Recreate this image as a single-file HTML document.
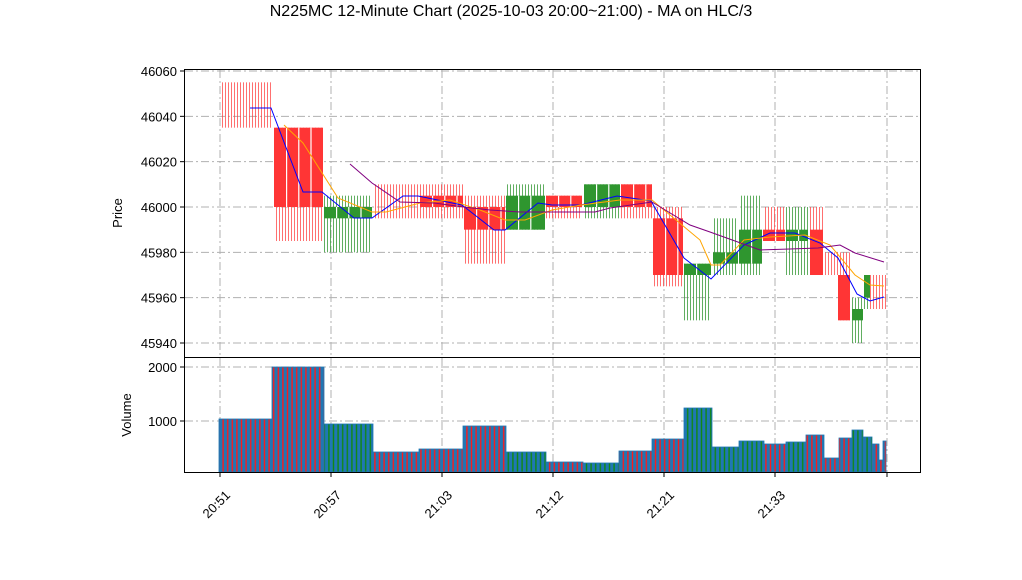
<!DOCTYPE html>
<html><head><meta charset="utf-8"><style>
body{margin:0;background:#fff}
svg text{font-family:"Liberation Sans","DejaVu Sans",sans-serif}
</style></head><body>
<svg id="s" width="1022" height="575" xmlns="http://www.w3.org/2000/svg">
<defs>
<pattern id="wr" width="3" height="10" patternUnits="userSpaceOnUse"><rect x="0" y="0" width="1" height="10" fill="#ff4040" opacity="0.75"/></pattern>
<pattern id="wg" width="3" height="10" patternUnits="userSpaceOnUse"><rect x="0" y="0" width="1" height="10" fill="#3a9a3a" opacity="0.8"/></pattern>
<pattern id="vr" width="4.6" height="10" patternUnits="userSpaceOnUse"><rect width="4.6" height="10" fill="#1f77b4"/><rect x="1.6" width="1.4" height="10" fill="#ff1a1a"/></pattern>
<pattern id="vg" width="4.6" height="10" patternUnits="userSpaceOnUse"><rect width="4.6" height="10" fill="#1f77b4"/><rect x="1.6" width="1.4" height="10" fill="#118811"/></pattern>
<pattern id="sep" x="0" width="12.2" height="10" patternUnits="userSpaceOnUse"><rect x="11" width="1.2" height="10" fill="#fff"/></pattern>
</defs>
<rect width="1022" height="575" fill="#fff"/>
<text x="511" y="16" font-size="16" text-anchor="middle">N225MC 12-Minute Chart (2025-10-03 20:00~21:00) - MA on HLC/3</text>
<g id="grid" stroke="#b0b0b0" stroke-width="1" stroke-dasharray="8,3,2,3" fill="none"></g>
<g id="wicks"></g><g id="bodies"></g><g id="vol"></g><g id="lines" fill="none"></g>
<rect x="184.5" y="69.5" width="736" height="288" fill="none" stroke="#000"/>
<rect x="184.5" y="357.5" width="736" height="115" fill="none" stroke="#000"/>
<g id="ticks" font-size="13"></g>
<text x="122" y="213" font-size="13" text-anchor="middle" transform="rotate(-90 122 213)">Price</text>
<text x="131" y="415" font-size="13" text-anchor="middle" transform="rotate(-90 131 415)">Volume</text>
</svg>
<script>
const NS="http://www.w3.org/2000/svg";
function el(p,t,a){const e=document.createElementNS(NS,t);for(const k in a)e.setAttribute(k,a[k]);document.getElementById(p).appendChild(e);return e;}
const py=p=>71+(46060-p)*2.2667;
const xt=[220,331,442,553,664,775,887],xl=["20:51","20:57","21:03","21:12","21:21","21:33",""];
const pt=[46060,46040,46020,46000,45980,45960,45940];
xt.forEach((x,i)=>{el("grid","line",{x1:x,x2:x,y1:70,y2:357});el("grid","line",{x1:x,x2:x,y1:358,y2:472});
 el("ticks","line",{x1:x,x2:x,y1:473,y2:477,stroke:"#000"});
 if(xl[i]){const t=el("ticks","text",{x:x+11,y:496,"text-anchor":"end",transform:`rotate(-45 ${x+11} 496)`});t.textContent=xl[i];}});
pt.forEach(p=>{const y=py(p);el("grid","line",{x1:185,x2:920,y1:y,y2:y});el("ticks","line",{x1:180,x2:184,y1:y,y2:y,stroke:"#000"});
 const t=el("ticks","text",{x:177,y:y+5,"text-anchor":"end"});t.textContent=p;});
[[2000,367],[1000,421]].forEach(([v,y])=>{el("grid","line",{x1:185,x2:920,y1:y,y2:y});el("ticks","line",{x1:180,x2:184,y1:y,y2:y,stroke:"#000"});
 const t=el("ticks","text",{x:177,y:y+5,"text-anchor":"end"});t.textContent=v;});
const B=[[220,272,'r',46055,46035,null,null],[274,323,'r',46035,45985,46035,46000],[324,372,'g',46005,45980,46000,45995],
[373,420,'r',46010,45995,null,null],[420,463,'r',46010,45995,46005,46000],[464,505,'r',46005,45975,46000,45990],
[506,545,'g',46010,45990,46005,45990],[546,582,'r',46005,45995,46005,46000],[584,620,'g',46010,45995,46010,46000],
[621,652,'r',46010,45995,46010,46000],[653,683,'r',46000,45965,45995,45970],[684,711,'g',45975,45950,45975,45970],
[713,738,'g',45995,45970,45980,45975],[739,762,'g',46005,45970,45990,45975],[763,785,'r',46000,45985,45990,45985],
[786,808,'g',46000,45970,45990,45985],[810,823,'r',46000,45970,45990,45970],[824,838,'r',45980,45970,null,null],
[838,850,'r',45980,45950,45970,45950],[852,863,'g',45960,45940,45955,45950],[864,870,'g',45970,45955,45970,45960],
[870,886,'r',45970,45955,null,null]];
B.forEach(b=>{const[x1,x2,c,wt,wb,bt,bb]=b;
 el("wicks","rect",{x:x1,y:py(wt),width:x2-x1,height:py(wb)-py(wt),fill:c=='r'?"url(#wr)":"url(#wg)"});
 if(bt!==null){const h=Math.max(2,py(bb)-py(bt));
  el("bodies","rect",{x:x1,y:py(bt),width:x2-x1,height:h,fill:c=='r'?"#ff3535":"#2f962f"});
  if(x2-x1>20)for(let x=x1+12;x<x2-4;x+=12.2)el("bodies","rect",{x:x,y:py(bt),width:1.2,height:h,fill:"#fff"});}});
const V=[[219,272,419,'r'],[272,324,367,'r'],[324,373,424,'g'],[373,419,452,'r'],[419,463,449,'r'],[463,506,426,'r'],[506,546,452,'g'],
[546,583,462,'r'],[583,619,463,'g'],[619,652,451,'r'],[652,684,439,'r'],[684,712,408,'g'],[712,739,447,'g'],[739,764,441,'g'],
[764,786,444,'r'],[786,806,442,'g'],[806,824,435,'r'],[824,839,458,'r'],[839,852,438,'r'],[852,863,430,'g'],[863,872,437,'g'],
[872,879,444,'r'],[879,883,460,'r'],[883,886,441,'r']];
V.forEach(([a,b,t,c])=>el("vol","rect",{x:a,y:t,width:b-a,height:472-t,fill:c=='r'?"url(#vr)":"url(#vg)",stroke:"#1f77b4","stroke-width":0.8}));
const L=[["blue",[[250,108],[271,108],[303,192],[322,192],[354,218],[372,218],[403,196],[418,196],[462,205],[494,230],[505,230],[538,203],[552,205],[581,205],[617,196],[651,201],[684,258],[711,279],[744,245],[770,233],[795,233],[820,243],[838,258],[857,294],[870,301],[884,297]]],
["orange",[[284,125],[303,143],[338,198],[372,212],[386,212],[420,203],[450,200],[480,210],[505,220],[525,220],[552,210],[581,205],[620,200],[652,200],[700,240],[711,265],[720,265],[744,240],[770,237],[805,235],[830,245],[855,275],[870,285],[884,286]]],
["purple",[[350,164],[372,183],[400,202],[434,203],[464,207],[490,210],[520,212],[595,212],[610,208],[652,202],[690,225],[710,232],[760,250],[790,249],[818,248],[840,245],[855,253],[884,262]]]];
L.forEach(([c,p])=>el("lines","polyline",{points:p.map(q=>q.join(",")).join(" "),stroke:c,"stroke-width":1}));
</script>
</body></html>
